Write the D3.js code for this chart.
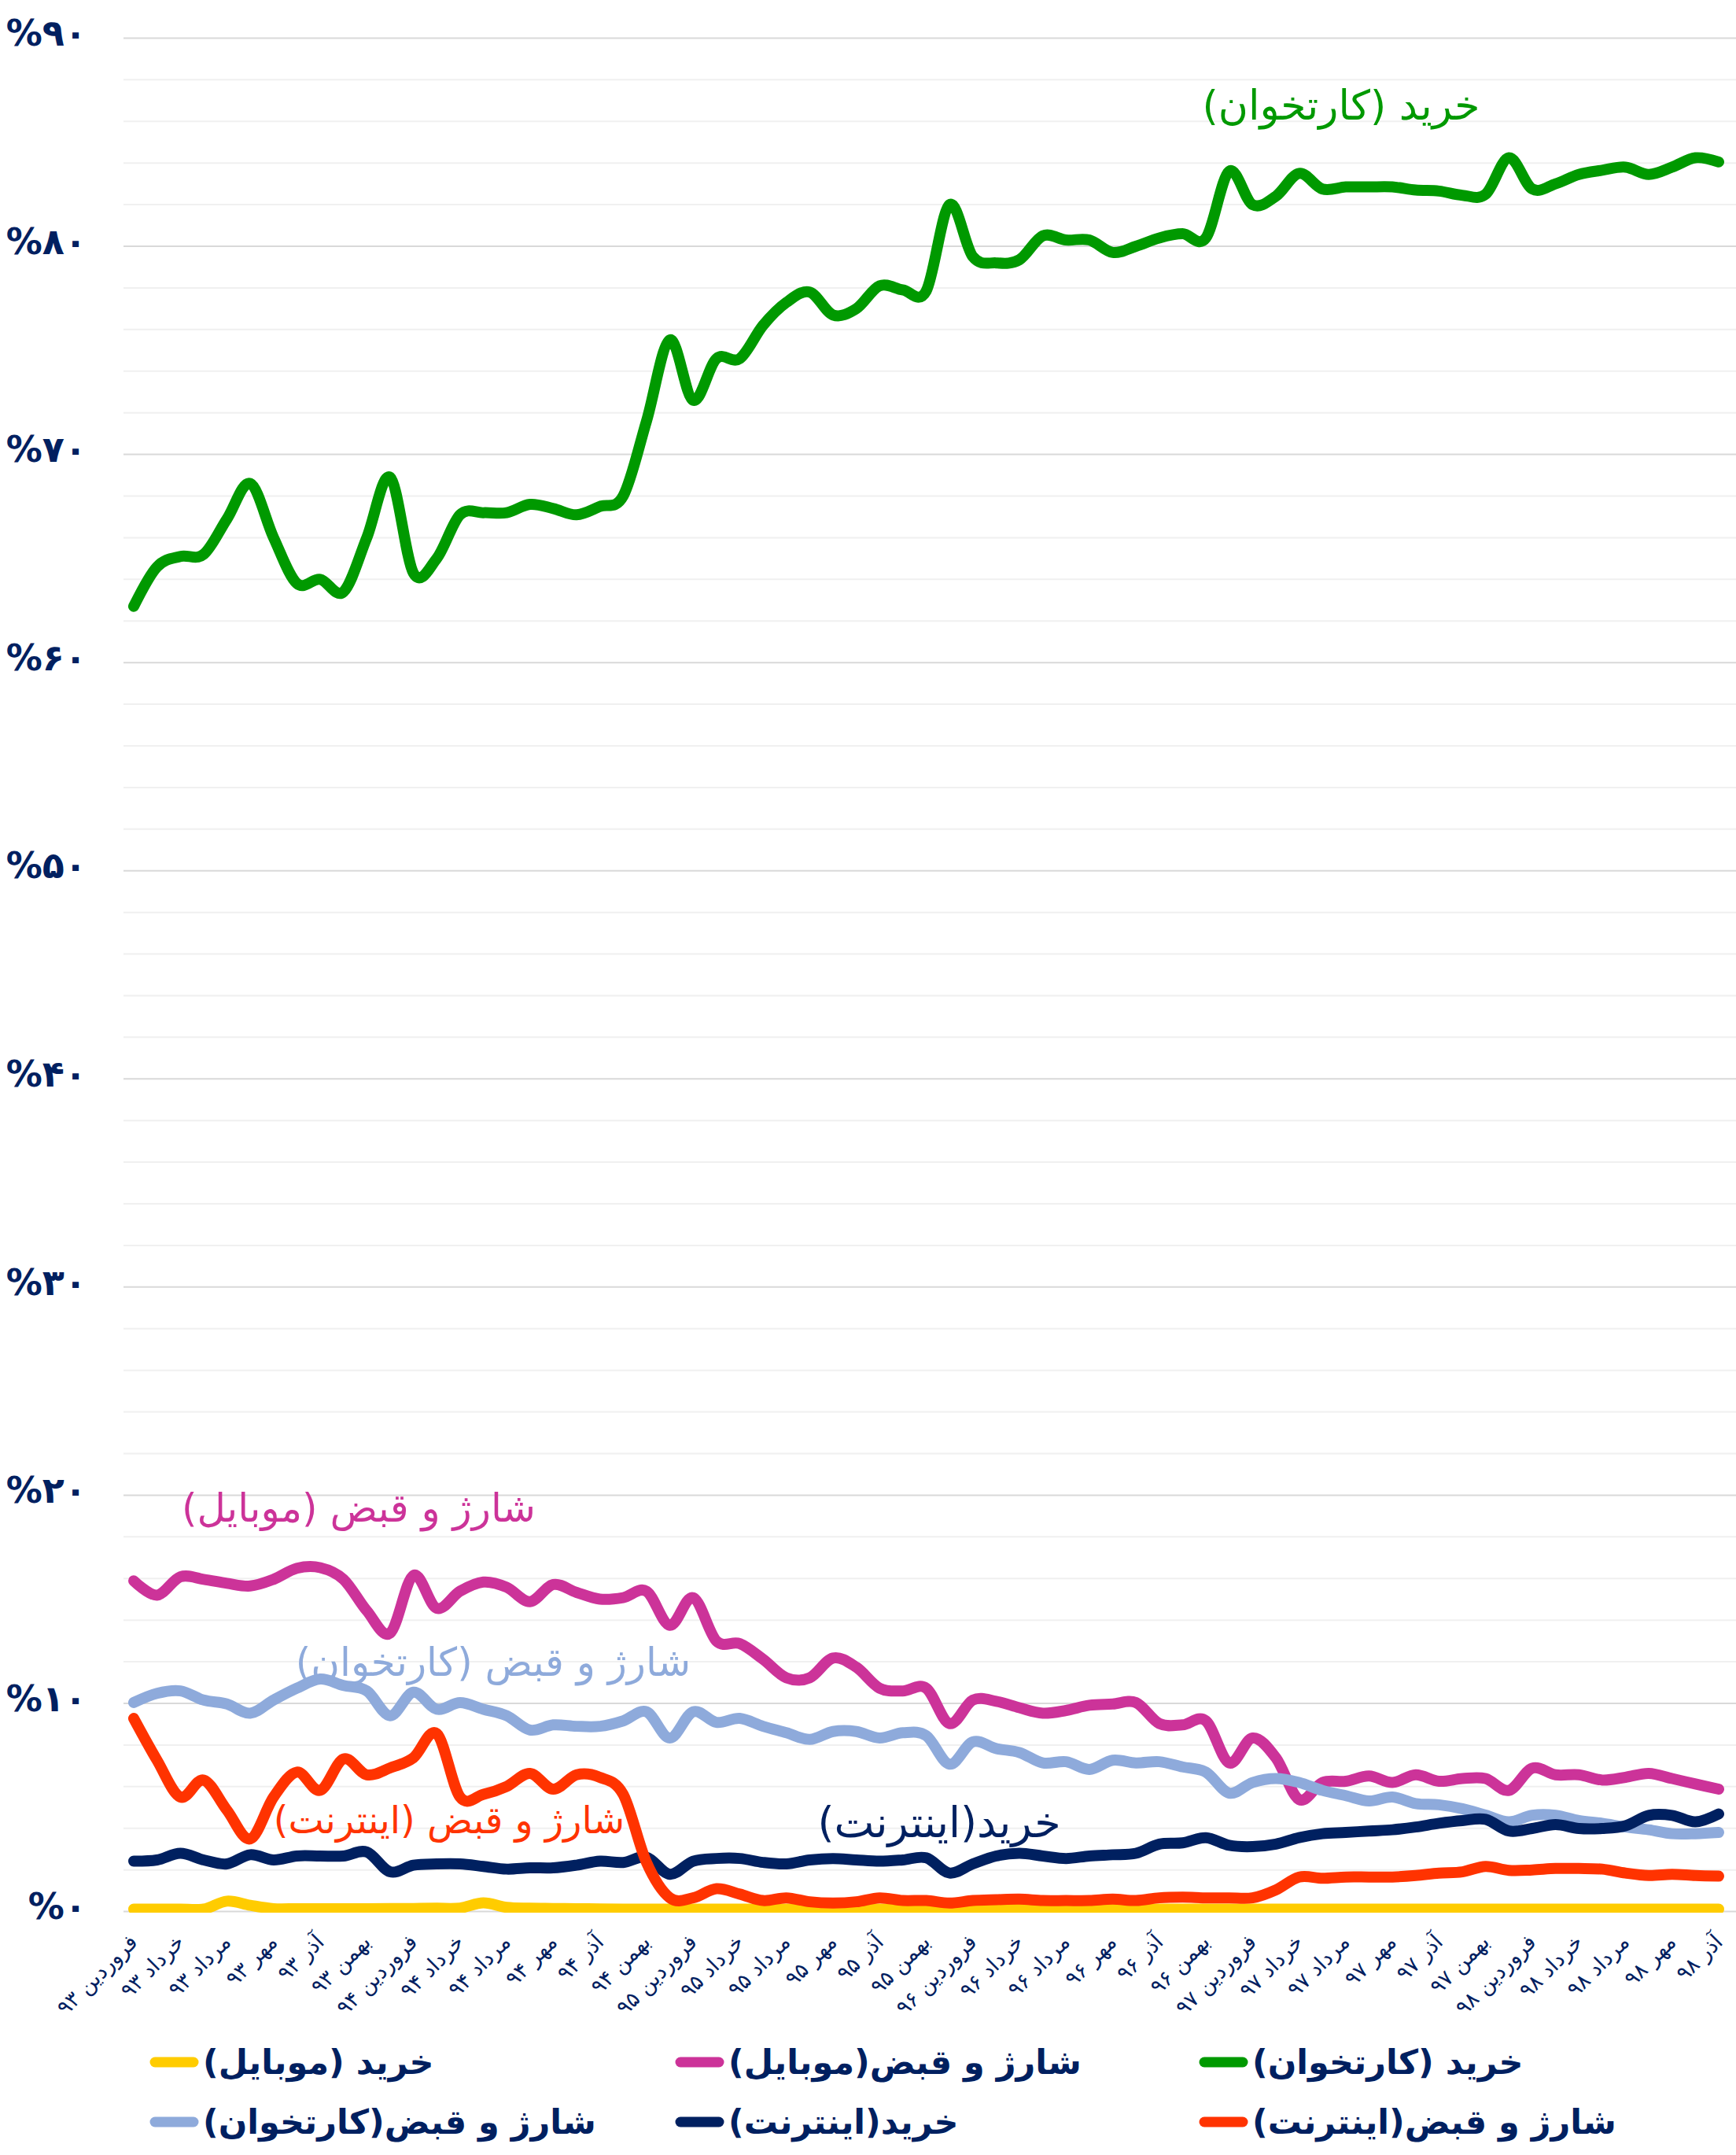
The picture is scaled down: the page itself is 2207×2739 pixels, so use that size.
<!DOCTYPE html>
<html>
<head>
<meta charset="utf-8">
<script src="https://cdn.jsdelivr.net/npm/d3@7"></script>
<style>
  html, body { margin: 0; padding: 0; background: #ffffff; }
  svg { display: block; font-family: "DejaVu Sans", sans-serif; }
</style>
</head>
<body>
<svg id="chart" width="2207" height="2739"></svg>
<script>
// ---------- DATA ----------
const monthNames = ["فروردین","اردیبهشت","خرداد","تیر","مرداد","شهریور","مهر","آبان","آذر","دی","بهمن","اسفند"];
const years = ["۹۳","۹۴","۹۵","۹۶","۹۷","۹۸"];
const categories = [];
years.forEach(y => monthNames.forEach(m => categories.push(m + " " + y)));
categories.length = 69; // فروردین ۹۳ .. آذر ۹۸

const tickLabels = [
  "فروردین ۹۳","خرداد ۹۳","مرداد ۹۳","مهر ۹۳","آذر ۹۳","بهمن ۹۳",
  "فروردین ۹۴","خرداد ۹۴","مرداد ۹۴","مهر ۹۴","آذر ۹۴","بهمن ۹۴",
  "فروردین ۹۵","خرداد ۹۵","مرداد ۹۵","مهر ۹۵","آذر ۹۵","بهمن ۹۵",
  "فروردین ۹۶","خرداد ۹۶","مرداد ۹۶","مهر ۹۶","آذر ۹۶","بهمن ۹۶",
  "فروردین ۹۷","خرداد ۹۷","مرداد ۹۷","مهر ۹۷","آذر ۹۷","بهمن ۹۷",
  "فروردین ۹۸","خرداد ۹۸","مرداد ۹۸","مهر ۹۸","آذر ۹۸"
];

const yTickValues = [0,10,20,30,40,50,60,70,80,90];
const yTickLabels = ["%۰","%۱۰","%۲۰","%۳۰","%۴۰","%۵۰","%۶۰","%۷۰","%۸۰","%۹۰"];

// خرید (کارتخوان)
const cardPurchase = [62.7,64.6,65.1,65.2,66.9,68.6,66.0,63.8,64.0,63.4,66.0,68.9,
  64.3,65.0,67.1,67.2,67.2,67.6,67.4,67.1,67.5,68.0,71.6,75.5,
  72.6,74.6,74.6,76.2,77.3,77.8,76.7,77.0,78.1,77.9,77.85,82.0,
  79.5,79.2,79.35,80.5,80.3,80.3,79.7,80.0,80.4,80.6,80.4,83.6,
  82.0,82.4,83.5,82.75,82.85,82.85,82.85,82.7,82.65,82.45,82.5,84.25,
  82.75,83.0,83.45,83.65,83.8,83.45,83.8,84.25,84.05];

// شارژ و قبض (موبایل)
const mobileBills = [15.89,15.2,16.08,15.96,15.77,15.64,15.96,16.49,16.52,15.96,14.45,13.38,
  16.15,14.57,15.39,15.83,15.58,14.89,15.71,15.33,15.01,15.08,15.39,13.75,
  15.08,13.0,12.87,12.12,11.23,11.23,12.18,11.74,10.73,10.6,10.73,9.03,
  10.16,10.1,9.79,9.53,9.66,9.91,9.97,10.04,9.03,8.97,9.16,7.14,
  8.34,7.39,5.38,6.2,6.26,6.51,6.2,6.57,6.26,6.39,6.39,5.82,
  6.89,6.57,6.57,6.32,6.45,6.64,6.39,6.13,5.88];

// شارژ و قبض (کارتخوان)
const cardBills = [10.04,10.48,10.6,10.16,9.97,9.53,10.16,10.73,11.17,10.86,10.6,9.41,
  10.54,9.72,10.04,9.72,9.41,8.72,8.97,8.9,8.9,9.16,9.6,8.34,
  9.6,9.09,9.28,8.9,8.59,8.27,8.65,8.65,8.34,8.59,8.45,7.08,
  8.15,7.83,7.64,7.14,7.2,6.83,7.27,7.14,7.2,6.95,6.7,5.69,
  6.2,6.39,6.2,5.82,5.57,5.31,5.5,5.19,5.13,4.94,4.63,4.31,
  4.63,4.63,4.37,4.24,4.06,3.93,3.74,3.74,3.8];

// خرید (اینترنت)
const netPurchase = [2.42,2.48,2.8,2.48,2.29,2.73,2.48,2.67,2.67,2.67,2.86,1.91,
  2.23,2.29,2.29,2.17,2.04,2.1,2.1,2.23,2.42,2.36,2.61,1.79,
  2.42,2.55,2.55,2.36,2.29,2.48,2.55,2.48,2.42,2.48,2.58,1.85,
  2.29,2.67,2.8,2.67,2.55,2.67,2.73,2.8,3.24,3.3,3.55,3.18,
  3.12,3.24,3.55,3.74,3.8,3.87,3.93,4.06,4.24,4.37,4.43,3.87,
  3.99,4.18,3.99,3.99,4.12,4.62,4.62,4.31,4.69];

// شارژ و قبض (اینترنت)
const netBills = [9.28,7.27,5.5,6.32,4.87,3.49,5.5,6.7,5.82,7.33,6.57,6.9,
  7.39,8.55,5.5,5.63,6.01,6.64,5.88,6.57,6.45,5.63,2.36,0.66,
  0.66,1.1,0.84,0.53,0.66,0.47,0.41,0.47,0.66,0.53,0.53,0.41,
  0.53,0.57,0.6,0.53,0.53,0.53,0.6,0.53,0.66,0.69,0.66,0.66,
  0.66,1.04,1.66,1.6,1.66,1.66,1.66,1.73,1.85,1.91,2.17,1.98,
  2.0,2.07,2.07,2.04,1.85,1.73,1.79,1.73,1.7];

// خرید (موبایل)
const mobilePurchase = [0.12,0.12,0.12,0.12,0.5,0.3,0.14,0.14,0.14,0.14,0.14,0.15,
  0.15,0.16,0.17,0.42,0.2,0.16,0.15,0.14,0.13,0.12,0.12,0.12,
  0.12,0.12,0.12,0.12,0.12,0.12,0.12,0.12,0.12,0.12,0.12,0.12,
  0.12,0.12,0.12,0.12,0.12,0.12,0.12,0.12,0.12,0.12,0.12,0.12,
  0.12,0.12,0.12,0.12,0.12,0.12,0.12,0.12,0.12,0.12,0.12,0.12,
  0.12,0.12,0.12,0.12,0.12,0.12,0.12,0.12,0.12];

const seriesNames = ["خرید (موبایل)","خرید (کارتخوان)","شارژ و قبض(موبایل)","شارژ و قبض(کارتخوان)","خرید(اینترنت)","شارژ و قبض(اینترنت)"];
const seriesColors = ["#ffcc00","#009900","#cc3399","#8eaadb","#002060","#ff3300"];
const seriesValues = [mobilePurchase, cardPurchase, mobileBills, cardBills, netPurchase, netBills];

// ---------- LAYOUT ----------
const svg = d3.select("#chart");
const W = 2207;
const plotLeft = 157, plotRight = 2207;
const x = d3.scaleLinear().domain([0, categories.length - 1]).range([170, 2185]);
const y = d3.scaleLinear().domain([0, 90]).range([2429.6, 48.4]);
const navy = "#002060";

// gridlines
const gridVals = d3.range(0, 91, 2);
svg.append("g").selectAll("line").data(gridVals).join("line")
  .attr("x1", plotLeft).attr("x2", plotRight)
  .attr("y1", d => y(d)).attr("y2", d => y(d))
  .attr("stroke", d => d % 10 === 0 ? "#d9d9d9" : "#f0f0f0")
  .attr("stroke-width", 2);

// y axis labels
const yAxis = d3.axisLeft(y).tickValues(yTickValues)
  .tickFormat((d, i) => yTickLabels[i]).tickSize(0).tickPadding(0);
const gy = svg.append("g").attr("transform", "translate(110,0)").call(yAxis);
gy.select(".domain").remove();
gy.selectAll("text")
  .attr("fill", navy)
  .attr("font-size", 46)
  .attr("font-weight", "bold")
  .attr("font-family", "DejaVu Sans, sans-serif")
  .attr("dy", "0.2em");

// x axis labels
const tickIdx = tickLabels.map((t, i) => i * 2);
const xAxis = d3.axisBottom(x).tickValues(tickIdx)
  .tickFormat((d, i) => tickLabels[i]).tickSize(0).tickPadding(0);
const gx = svg.append("g").attr("transform", "translate(0,2470)").call(xAxis);
gx.select(".domain").remove();
gx.selectAll("text")
  .attr("fill", navy)
  .attr("font-size", 27)
  .attr("font-family", "DejaVu Sans, sans-serif")
  .attr("direction", "rtl")
  .attr("text-anchor", "start")
  .attr("dy", 0)
  .attr("y", 0)
  .attr("transform", "translate(6,0) rotate(-45)");

// clip
svg.append("defs").append("clipPath").attr("id", "plotclip")
  .append("rect").attr("x", 0).attr("y", 0).attr("width", W).attr("height", y(0) + 1.5);

// lines
const line = d3.line()
  .x((d, i) => x(i))
  .y(d => y(d))
  .curve(d3.curveCardinal.tension(0));

const gl = svg.append("g").attr("clip-path", "url(#plotclip)");
seriesValues.forEach((vals, k) => {
  gl.append("path")
    .datum(vals)
    .attr("d", line)
    .attr("fill", "none")
    .attr("stroke", seriesColors[k])
    .attr("stroke-width", 14)
    .attr("stroke-linecap", "round")
    .attr("stroke-linejoin", "round");
});

// inline labels
const inlineLabels = [
  { text: "خرید (کارتخوان)", color: "#009900", x: 1705, y: 152, size: 52 },
  { text: "شارژ و قبض (موبایل)", color: "#cc3399", x: 456, y: 1934, size: 50 },
  { text: "شارژ و قبض (کارتخوان)", color: "#8eaadb", x: 627, y: 2130, size: 50 },
  { text: "شارژ و قبض (اینترنت)", color: "#ff3300", x: 571, y: 2330, size: 48 },
  { text: "خرید(اینترنت)", color: "#002060", x: 1194, y: 2335, size: 54 }
];
svg.append("g").selectAll("text").data(inlineLabels).join("text")
  .attr("x", d => d.x).attr("y", d => d.y)
  .attr("fill", d => d.color)
  .attr("font-size", d => d.size)
  .attr("direction", "rtl")
  .attr("text-anchor", "middle")
  .text(d => d.text);

// legend
const legendOrder = [0, 2, 1, 3, 4, 5];
const legendPos = [
  { x: 190, y: 2621 }, { x: 858, y: 2621 }, { x: 1524, y: 2621 },
  { x: 190, y: 2697 }, { x: 858, y: 2697 }, { x: 1524, y: 2697 }
];
const legendItems = legendOrder.map((k, j) => ({ k, ...legendPos[j] }));
const lg = svg.append("g").selectAll("g").data(legendItems).join("g")
  .attr("transform", d => `translate(${d.x},${d.y})`);
lg.append("line")
  .attr("x1", 7).attr("x2", 56).attr("y1", 0).attr("y2", 0)
  .attr("stroke", d => seriesColors[d.k])
  .attr("stroke-width", 13)
  .attr("stroke-linecap", "round");
lg.append("text")
  .attr("x", 68).attr("y", 15)
  .attr("fill", navy)
  .attr("font-size", 43)
  .attr("font-weight", "bold")
  .attr("direction", "rtl")
  .attr("text-anchor", "end")
  .text(d => seriesNames[d.k]);
</script>
</body>
</html>
